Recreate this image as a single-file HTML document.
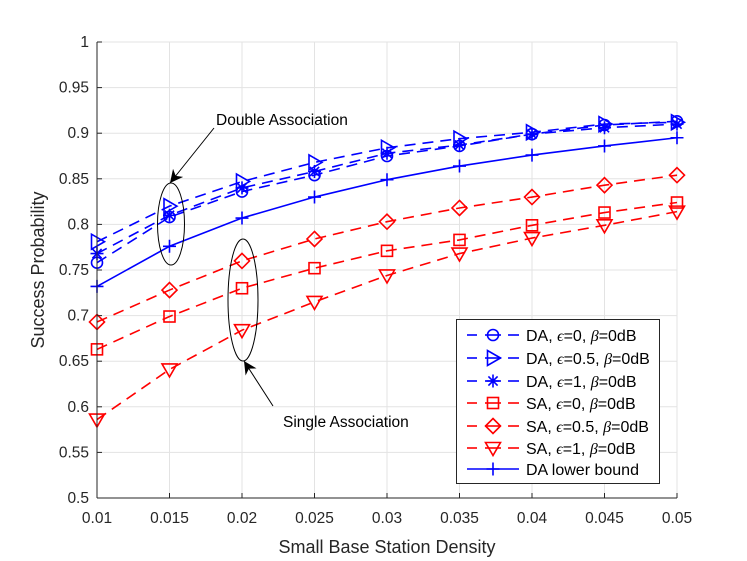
<!DOCTYPE html>
<html><head><meta charset="utf-8"><style>
html,body{margin:0;padding:0;background:#fff;width:747px;height:561px;overflow:hidden}
svg{display:block;font-family:"Liberation Sans",sans-serif}
</style></head><body>
<svg id="s" width="747" height="561" xmlns="http://www.w3.org/2000/svg">
<defs>
<marker id="ah" viewBox="0 0 10 10" refX="10" refY="5" markerWidth="13" markerHeight="13" orient="auto-start-reverse" markerUnits="userSpaceOnUse"><path d="M0,0 L10,5 L0,10 L3,5 Z" fill="#000"/></marker>
</defs>
<rect x="97" y="42" width="580" height="456" fill="#fff"/>
<g id="grid" stroke="#e3e3e3" stroke-width="1"></g>
<g id="data"></g>
<line x1="97" y1="42" x2="97" y2="498" stroke="#262626"/>
<line x1="97" y1="498" x2="677" y2="498" stroke="#262626"/>
<g id="ticks" font-size="15.5" fill="#262626"></g>
<text x="387" y="553" font-size="18" text-anchor="middle" fill="#262626">Small Base Station Density</text>
<text transform="translate(44,270) rotate(-90)" font-size="18" text-anchor="middle" fill="#262626">Success Probability</text>
<ellipse cx="171" cy="224" rx="13.5" ry="41" fill="none" stroke="#000" stroke-width="1"/>
<ellipse cx="243" cy="300" rx="15" ry="61" fill="none" stroke="#000" stroke-width="1"/>
<line x1="214" y1="128" x2="170" y2="183" stroke="#000" marker-end="url(#ah)"/>
<line x1="273" y1="406" x2="244" y2="361" stroke="#000" marker-end="url(#ah)"/>
<text x="216" y="125" font-size="15.5" fill="#000">Double Association</text>
<text x="283" y="427" font-size="15.5" fill="#000">Single Association</text>
<g id="leg"></g>
</svg>
<script>
const NS="http://www.w3.org/2000/svg";
function el(p,t,a){const e=document.createElementNS(NS,t);for(const k in a)e.setAttribute(k,a[k]);p.appendChild(e);return e;}
const X=i=>97+i*72.5, Y=v=>42+(1-v)*912;
const g=document.getElementById('grid'),tk=document.getElementById('ticks');
const xl=['0.01','0.015','0.02','0.025','0.03','0.035','0.04','0.045','0.05'];
for(let i=0;i<9;i++){if(i>0)el(g,'line',{x1:X(i),y1:42,x2:X(i),y2:498});
 el(tk,'line',{x1:X(i),y1:498,x2:X(i),y2:493,stroke:'#262626'});
 const t=el(tk,'text',{x:X(i),y:523,'text-anchor':'middle'});t.textContent=xl[i];}
for(let j=0;j<=10;j++){const v=0.5+j*0.05,y=Y(v);if(j>0)el(g,'line',{x1:97,y1:y,x2:677,y2:y});
 el(tk,'line',{x1:97,y1:y,x2:102,y2:y,stroke:'#262626'});
 const t=el(tk,'text',{x:89,y:y+5,'text-anchor':'end'});t.textContent=(j==10?'1':j==0?'0.5':(+v.toFixed(2)).toString());}
const B='#0000ff',R='#ff0000';
const S=[
[B,'o',[0.758,0.808,0.836,0.854,0.875,0.886,0.899,0.909,0.913],1],
[B,'>',[0.781,0.820,0.847,0.868,0.884,0.894,0.901,0.910,0.912],1],
[B,'*',[0.768,0.810,0.840,0.858,0.878,0.887,0.899,0.906,0.910],1],
[R,'s',[0.663,0.699,0.730,0.752,0.771,0.783,0.799,0.813,0.824],1],
[R,'d',[0.693,0.728,0.760,0.784,0.803,0.818,0.830,0.843,0.854],1],
[R,'v',[0.586,0.641,0.684,0.715,0.744,0.768,0.785,0.799,0.814],1],
[B,'+',[0.732,0.776,0.807,0.830,0.849,0.864,0.876,0.886,0.895],0]];
function mk(p,t,x,y,c){const a={fill:'none',stroke:c,'stroke-width':1.6};
 if(t=='o')el(p,'circle',Object.assign({cx:x,cy:y,r:5.5},a));
 if(t=='s')el(p,'rect',Object.assign({x:x-5.5,y:y-5.5,width:11,height:11},a));
 if(t=='d')el(p,'path',Object.assign({d:`M${x},${y-7.5}L${x+7.5},${y}L${x},${y+7.5}L${x-7.5},${y}Z`},a));
 if(t=='>')el(p,'path',Object.assign({d:`M${x+7.5},${y}L${x-5.5},${y-7.5}L${x-5.5},${y+7.5}Z`},a));
 if(t=='v')el(p,'path',Object.assign({d:`M${x},${y+7.5}L${x-7.5},${y-5.5}L${x+7.5},${y-5.5}Z`},a));
 if(t=='+')el(p,'path',Object.assign({d:`M${x-6.5},${y}H${x+6.5}M${x},${y-6.5}V${y+6.5}`},a));
 if(t=='*')el(p,'path',Object.assign({d:`M${x-6.5},${y}H${x+6.5}M${x},${y-6.5}V${y+6.5}M${x-4.6},${y-4.6}L${x+4.6},${y+4.6}M${x-4.6},${y+4.6}L${x+4.6},${y-4.6}`},a));}
const d=document.getElementById('data');
S.forEach(s=>{el(d,'polyline',{points:s[2].map((v,i)=>X(i)+','+Y(v)).join(' '),fill:'none',stroke:s[0],'stroke-width':1.6,'stroke-dasharray':s[3]?'11,7':'none'});
 s[2].forEach((v,i)=>mk(d,s[1],X(i),Y(v),s[0]));});
const L=document.getElementById('leg');
el(L,'rect',{x:456.5,y:319.5,width:203,height:164,fill:'#fff',stroke:'#262626','stroke-width':1});
const lab=[['DA, ','0'],['DA, ','0.5'],['DA, ','1'],['SA, ','0'],['SA, ','0.5'],['SA, ','1']];
const ry=[335,358,381,403,426,448,469];
S.forEach((s,i)=>{const y=ry[i];
 if(s[3]){el(L,'line',{x1:467,y1:y,x2:477,y2:y,stroke:s[0],'stroke-width':1.6});
  el(L,'line',{x1:485,y1:y,x2:501,y2:y,stroke:s[0],'stroke-width':1.6});
  el(L,'line',{x1:508,y1:y,x2:519,y2:y,stroke:s[0],'stroke-width':1.6});}
 else el(L,'line',{x1:467,y1:y,x2:519,y2:y,stroke:s[0],'stroke-width':1.6});
 mk(L,s[1],493,y,s[0]);
 const t=el(L,'text',{x:526,y:y+6,'font-size':16,fill:'#000'});
 if(i<6)t.innerHTML=`${lab[i][0]}<tspan font-family="Liberation Serif" font-style="italic">ϵ</tspan>=${lab[i][1]}, <tspan font-family="Liberation Serif" font-style="italic">β</tspan>=0dB`;
 else t.textContent='DA lower bound';});
</script>
</body></html>
